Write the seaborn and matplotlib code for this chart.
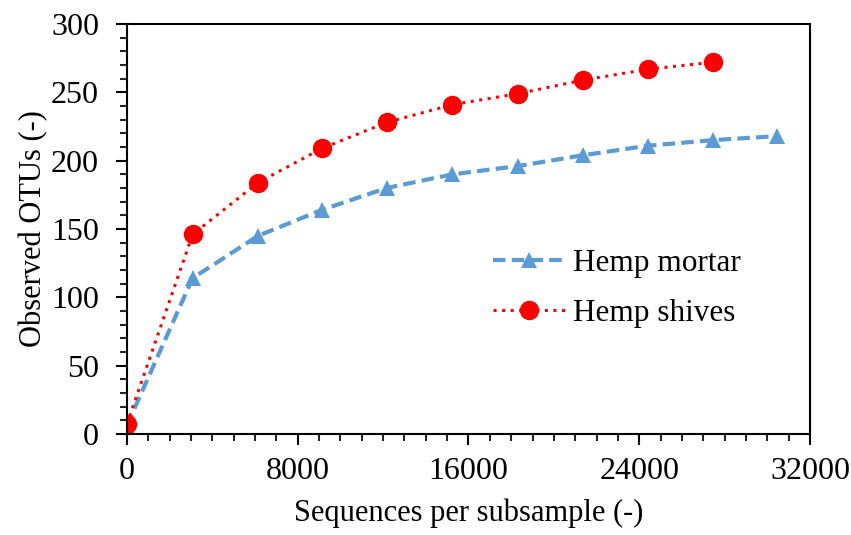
import matplotlib
matplotlib.use("Agg")
import matplotlib.pyplot as plt
import seaborn as sns
import pandas as pd
from matplotlib.ticker import MultipleLocator

# Data
seq_mortar = [0, 3080, 6150, 9140, 12170, 15240, 18300, 21370, 24430, 27430, 30450]
otu_mortar = [6, 114, 145, 164, 180, 190, 196, 204, 211, 215, 218]
seq_shives = [0, 3080, 6150, 9140, 12170, 15240, 18300, 21370, 24430, 27430]
otu_shives = [7, 146, 184, 209, 228, 241, 249, 259, 267, 272]
series_names = ["Hemp mortar", "Hemp shives"]

sns.set_theme(style="white")
plt.rcParams['font.family'] = ['Liberation Serif', 'DejaVu Serif']

fig = plt.figure(figsize=(8.51, 5.35), dpi=100)
ax = fig.add_axes([0.149, 0.189, 0.803, 0.766])

sns.lineplot(x=seq_mortar, y=otu_mortar, ax=ax, color="#5B9BD5", marker="^",
             markersize=12, markeredgewidth=0, linewidth=3.0,
             label=series_names[0])
ax.lines[-1].set_dashes((3, 1.5))
sns.lineplot(x=seq_shives, y=otu_shives, ax=ax, color="#FF0000", marker="o",
             markersize=14, markeredgewidth=0, linewidth=2.2,
             label=series_names[1])
ax.lines[-1].set_dashes((1, 1.8))

ax.set_xlim(0, 32000)
ax.set_ylim(0, 300)
ax.xaxis.set_major_locator(MultipleLocator(8000))
ax.xaxis.set_minor_locator(MultipleLocator(1000))
ax.yaxis.set_major_locator(MultipleLocator(50))
ax.yaxis.set_minor_locator(MultipleLocator(10))
ax.tick_params(which="major", direction="out", length=8, width=1.5, labelsize=23,
               colors="black", bottom=True, left=True)
ax.tick_params(axis="x", which="major", pad=9)
ax.tick_params(axis="y", which="major", pad=12)
ax.tick_params(which="minor", direction="out", length=5, width=1.5,
               bottom=True, left=True)
for s in ax.spines.values():
    s.set_linewidth(1.5)
    s.set_color("black")

ax.set_xlabel("Sequences per subsample (-)", fontsize=22, color="black", labelpad=9)
ax.set_ylabel("Observed OTUs (-)", fontsize=22, color="black", labelpad=2)

leg = ax.legend(loc="center left", bbox_to_anchor=(0.495, 0.355), frameon=False,
                fontsize=22.5, handlelength=2.3, handletextpad=0.25, labelspacing=0.68)
for t in leg.get_texts():
    t.set_color("black")

fig.savefig("out.png", dpi=100)
